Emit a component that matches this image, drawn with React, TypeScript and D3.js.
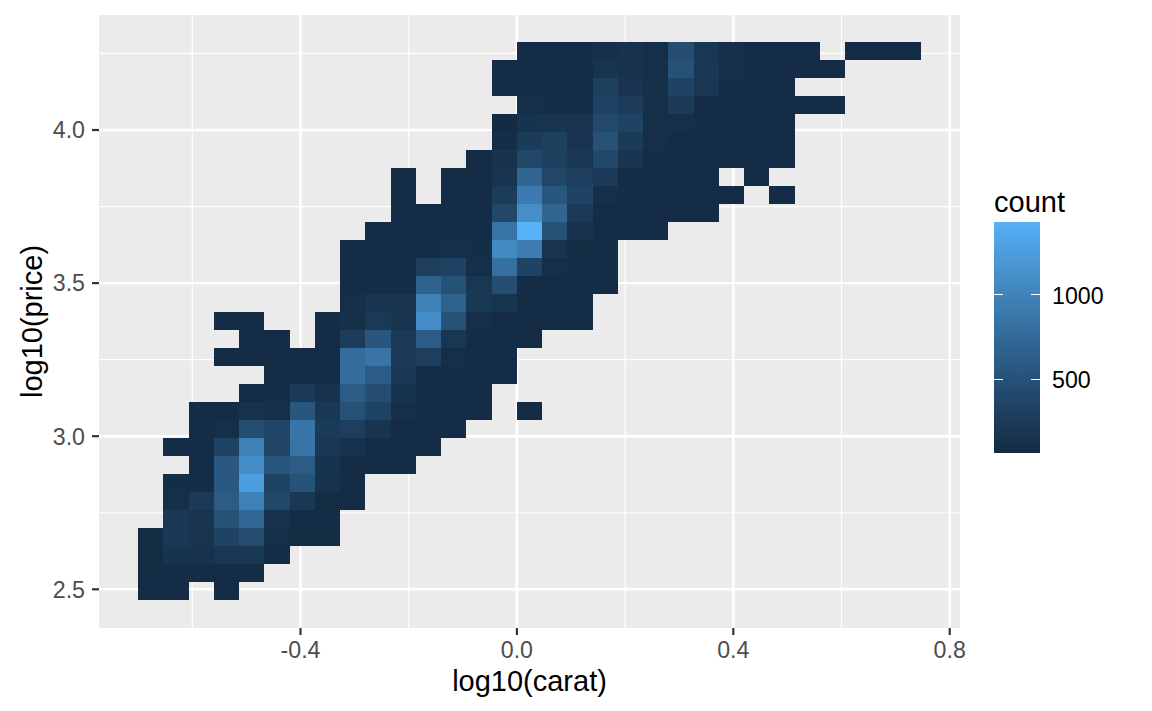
import React from "react";
import * as d3 from "d3";

// Each row (bottom to top): [first column, count per column...]; 0 = empty bin.
const binRows: number[][] = [
  [0, 75, 75, 0, 75],
  [0, 80, 100, 80, 80, 90],
  [0, 80, 160, 145, 190, 205, 75],
  [0, 80, 215, 165, 335, 440, 110, 80, 80],
  [1, 205, 165, 500, 730, 135, 75, 75],
  [1, 105, 235, 600, 980, 380, 205, 80, 75],
  [1, 95, 95, 560, 1250, 335, 510, 145, 75],
  [2, 95, 560, 1095, 540, 600, 160, 75, 75, 75],
  [1, 75, 75, 335, 980, 360, 850, 215, 140, 75, 75, 75],
  [2, 75, 105, 440, 360, 870, 250, 275, 165, 75, 75, 75],
  [2, 75, 75, 140, 110, 540, 205, 500, 335, 105, 75, 75, 75, 0, 75],
  [4, 75, 75, 235, 140, 600, 440, 160, 75, 75, 75],
  [5, 75, 75, 75, 770, 600, 205, 100, 75, 75, 75],
  [3, 75, 75, 75, 75, 75, 770, 850, 235, 275, 110, 75, 75],
  [4, 75, 75, 0, 75, 255, 540, 235, 600, 190, 75, 75, 75],
  [3, 75, 75, 0, 0, 75, 115, 225, 165, 1095, 500, 110, 75, 75, 75, 75],
  [8, 105, 165, 165, 980, 655, 205, 175, 80, 75, 75],
  [8, 75, 80, 80, 655, 500, 190, 440, 100, 75, 75, 75],
  [8, 75, 75, 75, 280, 320, 110, 810, 335, 110, 75, 75],
  [8, 75, 75, 75, 100, 120, 100, 1060, 930, 165, 80, 75],
  [9, 75, 75, 75, 75, 75, 850, 1434, 500, 145, 80, 75, 75],
  [10, 75, 75, 75, 75, 380, 1100, 705, 235, 80, 75, 75, 75, 75],
  [10, 75, 0, 75, 75, 255, 920, 540, 335, 110, 100, 75, 75, 75, 75, 0, 75],
  [10, 75, 0, 75, 75, 165, 705, 370, 275, 235, 100, 75, 75, 75, 0, 75],
  [13, 75, 150, 380, 295, 210, 380, 165, 95, 75, 75, 75, 75, 75],
  [14, 95, 250, 295, 170, 500, 250, 110, 75, 75, 75, 75, 75],
  [14, 70, 160, 165, 165, 410, 335, 110, 110, 75, 75, 75, 75],
  [15, 105, 100, 100, 335, 255, 110, 235, 75, 75, 75, 75, 75, 75],
  [14, 75, 75, 95, 95, 300, 170, 110, 335, 190, 75, 75, 75],
  [14, 75, 75, 75, 75, 175, 145, 105, 500, 210, 110, 75, 75, 75, 75],
  [15, 75, 75, 75, 105, 145, 110, 440, 190, 105, 75, 75, 75, 0, 75, 75, 75],
];

const xStart = -0.7004;
const xBinWidth = 0.04669;
const yStart = 2.465;
const yBinHeight = 0.05878;

const xMajor = [-0.4, 0, 0.4, 0.8];
const xMinor = [-0.6, -0.2, 0.2, 0.6];
const yMajor = [2.5, 3, 3.5, 4];
const yMinor = [2.75, 3.25, 3.75, 4.25];
const xTickLabels = ["-0.4", "0.0", "0.4", "0.8"];
const yTickLabels = ["2.5", "3.0", "3.5", "4.0"];
const legendBreaks = [500, 1000];
const countLimits = [60, 1434];
const colourRange = ["#132B43", "#56B1F7"];

const FONT = "'Liberation Sans', Arial, Helvetica, sans-serif";
const W = 1152;
const H = 711;
const panel = { l: 99, r: 960, t: 15, b: 628 };
const legend = { l: 994, r: 1040, t: 222, b: 453 };

export default function App() {
  const x = d3
    .scaleLinear()
    .domain([(panel.l - 516.9) / 541, (panel.r - 516.9) / 541])
    .range([panel.l, panel.r]);
  const y = d3
    .scaleLinear()
    .domain([4 - (panel.b - 130) / 306.2, 4 + (130 - panel.t) / 306.2])
    .range([panel.b, panel.t]);
  const colour = d3
    .scaleLinear<string>()
    .domain(countLimits)
    .range(colourRange)
    .interpolate(d3.interpolateLab);
  const legendY = d3.scaleLinear().domain(countLimits).range([legend.b, legend.t]);

  const cells = binRows.flatMap((row, r) =>
    row.slice(1).map((n, i) => ({ r, c: row[0] + i, n })).filter((d) => d.n > 0)
  );
  const stops = d3.range(0, 1.0001, 0.05);

  return (
    <svg
      width={W}
      height={H}
      viewBox={`0 0 ${W} ${H}`}
      style={{ position: "absolute", left: 0, top: 0, display: "block" }}
      fontFamily={FONT}
    >
      <rect width={W} height={H} fill="#fff" />
      <rect x={panel.l} y={panel.t} width={panel.r - panel.l} height={panel.b - panel.t} fill="#EBEBEB" />
      {xMinor.map((v) => (
        <line key={v} x1={x(v)} x2={x(v)} y1={panel.t} y2={panel.b} stroke="#fff" strokeWidth={1.2} />
      ))}
      {yMinor.map((v) => (
        <line key={v} y1={y(v)} y2={y(v)} x1={panel.l} x2={panel.r} stroke="#fff" strokeWidth={1.2} />
      ))}
      {xMajor.map((v) => (
        <line key={v} x1={x(v)} x2={x(v)} y1={panel.t} y2={panel.b} stroke="#fff" strokeWidth={2.4} />
      ))}
      {yMajor.map((v) => (
        <line key={v} y1={y(v)} y2={y(v)} x1={panel.l} x2={panel.r} stroke="#fff" strokeWidth={2.4} />
      ))}
      <g shapeRendering="crispEdges">
        {cells.map((d) => {
          const x0 = x(xStart + d.c * xBinWidth);
          const x1 = x(xStart + (d.c + 1) * xBinWidth);
          const y0 = y(yStart + d.r * yBinHeight);
          const y1 = y(yStart + (d.r + 1) * yBinHeight);
          return (
            <rect key={`${d.r}-${d.c}`} x={x0} y={y1} width={x1 - x0} height={y0 - y1} fill={colour(d.n)} />
          );
        })}
      </g>
      {xMajor.map((v, i) => (
        <g key={v}>
          <line x1={x(v)} x2={x(v)} y1={panel.b} y2={panel.b + 7} stroke="#333" strokeWidth={2.2} />
          <text x={x(v)} y={658} textAnchor="middle" fontSize={23.2} fill="#4D4D4D">
            {xTickLabels[i]}
          </text>
        </g>
      ))}
      {yMajor.map((v, i) => (
        <g key={v}>
          <line x1={panel.l - 7} x2={panel.l} y1={y(v)} y2={y(v)} stroke="#333" strokeWidth={2.2} />
          <text x={85} y={y(v) + 8.3} textAnchor="end" fontSize={23.2} fill="#4D4D4D">
            {yTickLabels[i]}
          </text>
        </g>
      ))}
      <text x={529.5} y={691} textAnchor="middle" fontSize={29} fill="#000">
        log10(carat)
      </text>
      <text transform={`translate(42,321.5) rotate(-90)`} textAnchor="middle" fontSize={29} fill="#000">
        log10(price)
      </text>

      <defs>
        <linearGradient id="countBar" x1="0" x2="0" y1="1" y2="0">
          {stops.map((t) => (
            <stop key={t} offset={t} stopColor={colour(countLimits[0] + t * (countLimits[1] - countLimits[0]))} />
          ))}
        </linearGradient>
      </defs>
      <text x={994} y={212} fontSize={29} fill="#000">
        count
      </text>
      <rect x={legend.l} y={legend.t} width={legend.r - legend.l} height={legend.b - legend.t} fill="url(#countBar)" />
      {legendBreaks.map((v) => (
        <g key={v}>
          <line x1={legend.l} x2={legend.l + 9.2} y1={legendY(v)} y2={legendY(v)} stroke="#fff" strokeWidth={1} shapeRendering="crispEdges" />
          <line x1={legend.r - 9.2} x2={legend.r} y1={legendY(v)} y2={legendY(v)} stroke="#fff" strokeWidth={1} shapeRendering="crispEdges" />
          <text x={1052} y={legendY(v) + 9.3} fontSize={23.2} fill="#000">
            {v}
          </text>
        </g>
      ))}
    </svg>
  );
}
